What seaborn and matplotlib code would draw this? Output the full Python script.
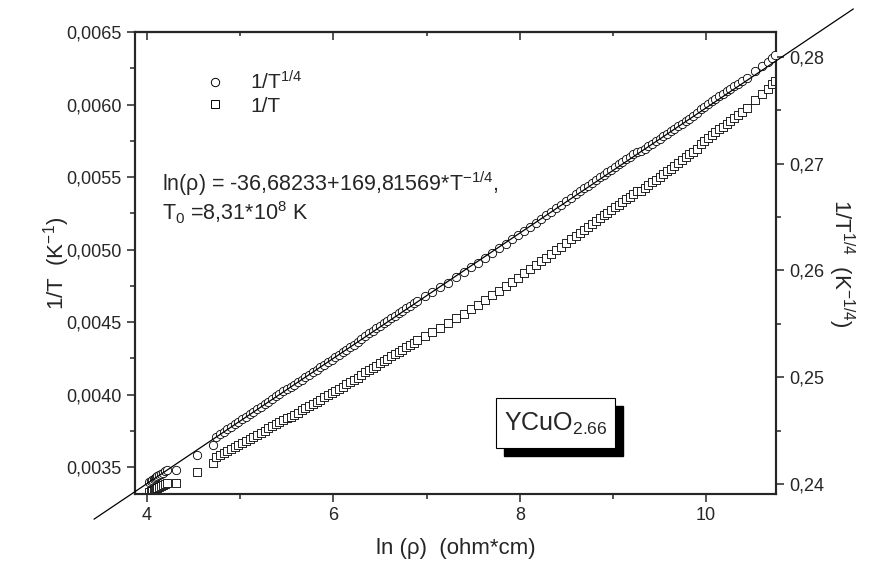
import matplotlib
matplotlib.use("Agg")
import matplotlib.pyplot as plt
from matplotlib.lines import Line2D
from matplotlib.patches import Rectangle
from matplotlib.ticker import FuncFormatter, MultipleLocator
import seaborn as sns

# ln(rho) measurement points (x axis)
ln_rho = [
    4.02, 4.04, 4.05, 4.07, 4.08, 4.10, 4.11, 4.13, 4.15, 4.17, 4.19, 4.21,
    4.31, 4.54, 4.71,
    4.74, 4.78, 4.82, 4.86, 4.90, 4.94, 4.98, 5.02, 5.06, 5.10, 5.14, 5.18,
    5.22, 5.26, 5.30, 5.34, 5.38, 5.42, 5.46, 5.50, 5.54, 5.58, 5.62, 5.66,
    5.70, 5.74, 5.78, 5.82, 5.86, 5.90, 5.94, 5.98, 6.02, 6.06, 6.10, 6.14,
    6.18, 6.22, 6.26, 6.30, 6.34, 6.38, 6.42, 6.46, 6.50, 6.54, 6.58, 6.62,
    6.66, 6.70, 6.74, 6.78, 6.82, 6.86, 6.90,
    6.98, 7.06, 7.14, 7.23, 7.32, 7.40, 7.48, 7.55, 7.63, 7.70, 7.78, 7.85,
    7.92, 7.98, 8.05, 8.11, 8.17, 8.23, 8.28, 8.33, 8.39, 8.44, 8.50, 8.55,
    8.60, 8.65, 8.69, 8.73, 8.77, 8.82,
    8.86, 8.90, 8.94, 8.98, 9.02, 9.06, 9.10, 9.14, 9.18, 9.22, 9.26, 9.30,
    9.34, 9.38, 9.42, 9.46, 9.50, 9.54, 9.58, 9.62, 9.66, 9.70, 9.74, 9.78,
    9.82, 9.86, 9.90, 9.94, 9.98, 10.02, 10.06, 10.10, 10.14, 10.18, 10.22,
    10.26, 10.30, 10.34, 10.38,
    10.44, 10.52, 10.60, 10.66, 10.71, 10.74,
]

# 1/T^(1/4) (circles)
inv_t_quarter = [
    0.24016, 0.24028, 0.24034, 0.24046, 0.24052, 0.24064, 0.24070, 0.24081,
    0.24093, 0.24105, 0.24117, 0.24129,
    0.24132, 0.24268, 0.24368,
    0.24442, 0.24465, 0.24489, 0.24512, 0.24536, 0.24560, 0.24583, 0.24607,
    0.24631, 0.24654, 0.24678, 0.24701, 0.24725, 0.24749, 0.24772, 0.24796,
    0.24820, 0.24843, 0.24867, 0.24885, 0.24904, 0.24928, 0.24951, 0.24975,
    0.24999, 0.25022, 0.25046, 0.25069, 0.25093, 0.25117, 0.25140, 0.25164,
    0.25187, 0.25211, 0.25235, 0.25258, 0.25282, 0.25306, 0.25329, 0.25358,
    0.25386, 0.25410, 0.25434, 0.25457, 0.25481, 0.25505, 0.25528, 0.25552,
    0.25575, 0.25599, 0.25623, 0.25646, 0.25670, 0.25693, 0.25717,
    0.25759, 0.25802, 0.25841, 0.25887, 0.25937, 0.25982, 0.26030, 0.26071,
    0.26118, 0.26160, 0.26207, 0.26248, 0.26291, 0.26328, 0.26371, 0.26409,
    0.26447, 0.26484, 0.26516, 0.26548, 0.26585, 0.26616, 0.26652, 0.26683,
    0.26714, 0.26744, 0.26769, 0.26794, 0.26818, 0.26849,
    0.26874, 0.26898, 0.26922, 0.26945, 0.26969, 0.26993, 0.27016, 0.27040,
    0.27063, 0.27087, 0.27111, 0.27116, 0.27140, 0.27164, 0.27187, 0.27211,
    0.27234, 0.27258, 0.27282, 0.27305, 0.27329, 0.27353, 0.27376, 0.27400,
    0.27423, 0.27447, 0.27471, 0.27512, 0.27536, 0.27559, 0.27583, 0.27607,
    0.27630, 0.27654, 0.27678, 0.27701, 0.27725, 0.27748, 0.27772,
    0.27807, 0.27865, 0.27917, 0.27957, 0.27992, 0.28015,
]

# 1/T (squares)
inv_t = [
    0.0033266, 0.0033333, 0.0033366, 0.0033433, 0.0033466, 0.0033533,
    0.0033566, 0.0033628, 0.0033695, 0.0033762, 0.0033829, 0.0033897,
    0.0033914, 0.0034685, 0.0035260,
    0.0035690, 0.0035825, 0.0035965, 0.0036101, 0.0036242, 0.0036384,
    0.0036521, 0.0036664, 0.0036807, 0.0036944, 0.0037089, 0.0037227,
    0.0037372, 0.0037517, 0.0037657, 0.0037803, 0.0037950, 0.0038090,
    0.0038238, 0.0038349, 0.0038466, 0.0038614, 0.0038757, 0.0038906,
    0.0039056, 0.0039200, 0.0039351, 0.0039496, 0.0039647, 0.0039799,
    0.0039945, 0.0040098, 0.0040244, 0.0040398, 0.0040552, 0.0040700,
    0.0040855, 0.0041010, 0.0041160, 0.0041349, 0.0041531, 0.0041689,
    0.0041846, 0.0041998, 0.0042157, 0.0042316, 0.0042469, 0.0042628,
    0.0042782, 0.0042943, 0.0043104, 0.0043259, 0.0043421, 0.0043577,
    0.0043740,
    0.0044027, 0.0044321, 0.0044590, 0.0044908, 0.0045256, 0.0045571,
    0.0045909, 0.0046199, 0.0046533, 0.0046833, 0.0047170, 0.0047466,
    0.0047778, 0.0048048, 0.0048362, 0.0048642, 0.0048922, 0.0049197,
    0.0049435, 0.0049674, 0.0049951, 0.0050185, 0.0050457, 0.0050692,
    0.0050928, 0.0051157, 0.0051349, 0.0051541, 0.0051726, 0.0051965,
    0.0052159, 0.0052346, 0.0052533, 0.0052712, 0.0052900, 0.0053089,
    0.0053270, 0.0053460, 0.0053642, 0.0053832, 0.0054023, 0.0054063,
    0.0054255, 0.0054447, 0.0054632, 0.0054825, 0.0055011, 0.0055205,
    0.0055399, 0.0055586, 0.0055782, 0.0055978, 0.0056167, 0.0056364,
    0.0056554, 0.0056752, 0.0056951, 0.0057291, 0.0057491, 0.0057684,
    0.0057885, 0.0058087, 0.0058281, 0.0058483, 0.0058687, 0.0058882,
    0.0059086, 0.0059283, 0.0059488,
    0.0059788, 0.0060289, 0.0060740, 0.0061089, 0.0061395, 0.0061597,
]

# straight fit line drawn across the plot
fit_x = [3.43, 11.58]
fit_y = [0.2367, 0.2845]

sns.set_style("ticks")
plt.rcParams["font.family"] = ["Liberation Sans", "DejaVu Sans"]
plt.rcParams["mathtext.default"] = "regular"

fig = plt.figure(figsize=(8.74, 5.70), dpi=100)
ax = fig.add_axes([135 / 874, 1 - 494 / 570, 641 / 874, 462 / 570])
ax2 = ax.twinx()

sns.scatterplot(x=ln_rho, y=inv_t, ax=ax, marker="s", s=26, color="white",
                edgecolor="black", linewidth=0.6, legend=False, zorder=3)
sns.scatterplot(x=ln_rho, y=inv_t_quarter, ax=ax2, marker="o", s=36, color="white",
                edgecolor="black", linewidth=0.6, legend=False, zorder=3)
ax2.plot(fit_x, fit_y, color="black", lw=0.9, clip_on=False, zorder=4)

ax.set_xlim(3.87, 10.75)
ax.set_ylim(0.003314, 0.0065)
ax2.set_ylim(0.23906, 0.28234)

comma = lambda fmt: FuncFormatter(lambda v, p: format(v, fmt).replace(".", ","))
ax.xaxis.set_major_locator(MultipleLocator(2))
ax.xaxis.set_minor_locator(MultipleLocator(1))
ax.yaxis.set_major_locator(MultipleLocator(0.0005))
ax.yaxis.set_minor_locator(MultipleLocator(0.00025))
ax.yaxis.set_major_formatter(comma(".4f"))
ax2.yaxis.set_major_locator(MultipleLocator(0.01))
ax2.yaxis.set_minor_locator(MultipleLocator(0.005))
ax2.yaxis.set_major_formatter(comma(".2f"))

for a in (ax, ax2):
    a.tick_params(which="major", length=6, width=1.1, labelsize=13, direction="out")
    a.tick_params(which="minor", length=3.5, width=1.1, direction="out")
    for sp in a.spines.values():
        sp.set_linewidth(1.5)
ax.tick_params(axis="x", top=False, which="both")
ax.tick_params(axis="y", right=False, which="both")
ax2.tick_params(axis="y", left=False, which="both")

# Origin-style inward ticks on the top edge
top = ax.secondary_xaxis("top")
top.xaxis.set_major_locator(MultipleLocator(2))
top.xaxis.set_minor_locator(MultipleLocator(1))
top.tick_params(which="major", direction="in", length=6, width=1.1, labeltop=False)
top.tick_params(which="minor", direction="in", length=3, width=1.1)
top.spines["top"].set_linewidth(1.5)

ax.set_xlabel("ln (ρ)  (ohm*cm)", fontsize=16, labelpad=10)
ax.set_ylabel("1/T  (K$^{-1}$)", fontsize=16)
ax.yaxis.set_label_coords(-0.099, 0.5)
ax2.set_ylabel("1/T$^{1/4}$  (K$^{-1/4}$)", fontsize=16, rotation=270, labelpad=23)

handles = [
    Line2D([], [], ls="", marker="o", ms=6, mfc="white", mec="black", mew=0.7),
    Line2D([], [], ls="", marker="s", ms=5.5, mfc="white", mec="black", mew=0.7),
]
ax2.legend(handles, ["1/T$^{1/4}$", "1/T"], loc="upper left", bbox_to_anchor=(0.108, 0.917),
           frameon=False, fontsize=15, handlelength=1.0, handletextpad=1.2,
           borderpad=0, borderaxespad=0, labelspacing=0.15)

ax2.text(0.042, 0.656, "ln(ρ) = -36,68233+169,81569*T$^{-1/4}$,", transform=ax.transAxes,
         fontsize=15.5, va="baseline", ha="left")
ax2.text(0.042, 0.593, "T$_0$ =8,31*10$^8$ K", transform=ax.transAxes,
         fontsize=15.5, va="baseline", ha="left")

# sample label box with drop shadow
ax2.add_patch(Rectangle((0.5755, 0.0823), 0.186, 0.1084, transform=ax.transAxes,
                        facecolor="black", edgecolor="black", zorder=5))
ax2.add_patch(Rectangle((0.563, 0.0996), 0.186, 0.1084, transform=ax.transAxes,
                        facecolor="white", edgecolor="black", lw=0.8, zorder=6))
ax2.text(0.656, 0.152, "YCuO$_{2.66}$", transform=ax.transAxes, fontsize=18,
         ha="center", va="center", zorder=7)

fig.savefig("out.png", dpi=100)
